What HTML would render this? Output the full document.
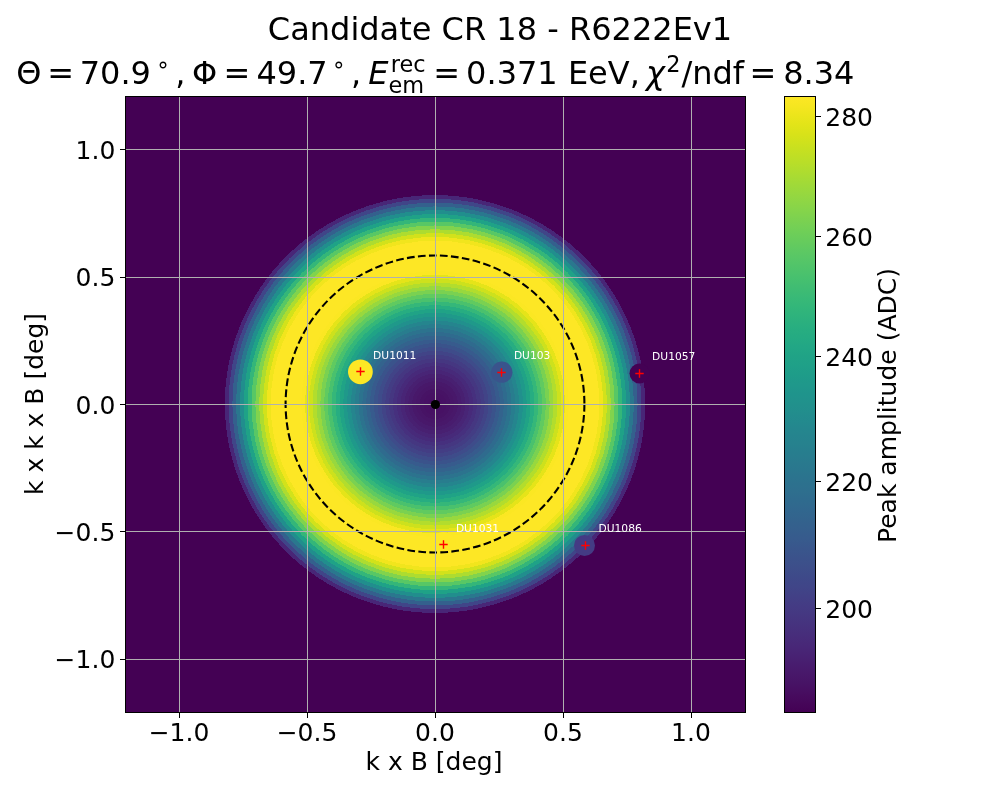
<!DOCTYPE html>
<html lang="en"><head><meta charset="utf-8"><title>Candidate CR 18 - R6222Ev1</title>
<style>html,body{margin:0;padding:0;background:#fff}svg{display:block}text{font-family:"DejaVu Sans","Liberation Sans",sans-serif;fill:#000}.t18{font-size:25px}.t23{font-size:32px}.t16{font-size:22.4px}.lab{font-size:10.7px;fill:#fff}</style></head><body>
<svg width="1000" height="800" viewBox="0 0 1000 800">
<rect width="1000" height="800" fill="#fff"/>
<defs><clipPath id="ax"><rect x="125" y="96" width="620" height="616"/></clipPath>
<linearGradient id="cb" x1="0" y1="0" x2="0" y2="1"><stop offset="0.0000" stop-color="#fde725"/><stop offset="0.0156" stop-color="#f6e620"/><stop offset="0.0312" stop-color="#ece51b"/><stop offset="0.0469" stop-color="#e2e418"/><stop offset="0.0625" stop-color="#d8e219"/><stop offset="0.0781" stop-color="#cde11d"/><stop offset="0.0938" stop-color="#c2df23"/><stop offset="0.1094" stop-color="#b8de29"/><stop offset="0.1250" stop-color="#addc30"/><stop offset="0.1406" stop-color="#a2da37"/><stop offset="0.1562" stop-color="#98d83e"/><stop offset="0.1719" stop-color="#8ed645"/><stop offset="0.1875" stop-color="#84d44b"/><stop offset="0.2031" stop-color="#7ad151"/><stop offset="0.2188" stop-color="#70cf57"/><stop offset="0.2344" stop-color="#67cc5c"/><stop offset="0.2500" stop-color="#5ec962"/><stop offset="0.2656" stop-color="#56c667"/><stop offset="0.2812" stop-color="#4ec36b"/><stop offset="0.2969" stop-color="#46c06f"/><stop offset="0.3125" stop-color="#3fbc73"/><stop offset="0.3281" stop-color="#38b977"/><stop offset="0.3438" stop-color="#32b67a"/><stop offset="0.3594" stop-color="#2db27d"/><stop offset="0.3750" stop-color="#28ae80"/><stop offset="0.3906" stop-color="#25ab82"/><stop offset="0.4062" stop-color="#22a785"/><stop offset="0.4219" stop-color="#20a386"/><stop offset="0.4375" stop-color="#1fa088"/><stop offset="0.4531" stop-color="#1e9c89"/><stop offset="0.4688" stop-color="#1f988b"/><stop offset="0.4844" stop-color="#1f948c"/><stop offset="0.5000" stop-color="#21918c"/><stop offset="0.5156" stop-color="#228d8d"/><stop offset="0.5312" stop-color="#23898e"/><stop offset="0.5469" stop-color="#25858e"/><stop offset="0.5625" stop-color="#26828e"/><stop offset="0.5781" stop-color="#277e8e"/><stop offset="0.5938" stop-color="#297a8e"/><stop offset="0.6094" stop-color="#2a768e"/><stop offset="0.6250" stop-color="#2c728e"/><stop offset="0.6406" stop-color="#2e6f8e"/><stop offset="0.6562" stop-color="#2f6b8e"/><stop offset="0.6719" stop-color="#31678e"/><stop offset="0.6875" stop-color="#33638d"/><stop offset="0.7031" stop-color="#355f8d"/><stop offset="0.7188" stop-color="#375b8d"/><stop offset="0.7344" stop-color="#39568c"/><stop offset="0.7500" stop-color="#3b528b"/><stop offset="0.7656" stop-color="#3d4e8a"/><stop offset="0.7812" stop-color="#3e4989"/><stop offset="0.7969" stop-color="#404588"/><stop offset="0.8125" stop-color="#424086"/><stop offset="0.8281" stop-color="#443b84"/><stop offset="0.8438" stop-color="#453781"/><stop offset="0.8594" stop-color="#46327e"/><stop offset="0.8750" stop-color="#472d7b"/><stop offset="0.8906" stop-color="#482878"/><stop offset="0.9062" stop-color="#482374"/><stop offset="0.9219" stop-color="#481d6f"/><stop offset="0.9375" stop-color="#48186a"/><stop offset="0.9531" stop-color="#471365"/><stop offset="0.9688" stop-color="#470d60"/><stop offset="0.9844" stop-color="#46075a"/><stop offset="1.0000" stop-color="#440154"/></linearGradient></defs>
<rect x="125" y="96" width="620" height="616" fill="#440154"/>
<g clip-path="url(#ax)" shape-rendering="crispEdges">
<ellipse cx="435.0" cy="404.0" rx="210.20" ry="208.94" fill="#482677"/>
<ellipse cx="435.0" cy="404.0" rx="206.38" ry="205.14" fill="#404588"/>
<ellipse cx="435.0" cy="404.0" rx="202.56" ry="201.34" fill="#34608d"/>
<ellipse cx="435.0" cy="404.0" rx="198.73" ry="197.54" fill="#2a778e"/>
<ellipse cx="435.0" cy="404.0" rx="194.91" ry="193.74" fill="#218e8d"/>
<ellipse cx="435.0" cy="404.0" rx="191.09" ry="189.94" fill="#1fa287"/>
<ellipse cx="435.0" cy="404.0" rx="187.27" ry="186.15" fill="#34b679"/>
<ellipse cx="435.0" cy="404.0" rx="183.45" ry="182.35" fill="#58c765"/>
<ellipse cx="435.0" cy="404.0" rx="179.63" ry="178.55" fill="#81d34d"/>
<ellipse cx="435.0" cy="404.0" rx="175.80" ry="174.75" fill="#addc30"/>
<ellipse cx="435.0" cy="404.0" rx="171.98" ry="170.95" fill="#d2e21b"/>
<ellipse cx="435.0" cy="404.0" rx="168.16" ry="167.15" fill="#f1e51d"/>
<ellipse cx="435.0" cy="404.0" rx="164.34" ry="163.35" fill="#fde725"/>
<ellipse cx="435.0" cy="404.0" rx="133.76" ry="132.96" fill="#fbe723"/>
<ellipse cx="435.0" cy="404.0" rx="129.94" ry="129.16" fill="#e5e419"/>
<ellipse cx="435.0" cy="404.0" rx="126.12" ry="125.36" fill="#cde11d"/>
<ellipse cx="435.0" cy="404.0" rx="122.30" ry="121.56" fill="#b2dd2d"/>
<ellipse cx="435.0" cy="404.0" rx="118.48" ry="117.77" fill="#98d83e"/>
<ellipse cx="435.0" cy="404.0" rx="114.65" ry="113.97" fill="#7ad151"/>
<ellipse cx="435.0" cy="404.0" rx="110.83" ry="110.17" fill="#60ca60"/>
<ellipse cx="435.0" cy="404.0" rx="107.01" ry="106.37" fill="#4ac16d"/>
<ellipse cx="435.0" cy="404.0" rx="103.19" ry="102.57" fill="#35b779"/>
<ellipse cx="435.0" cy="404.0" rx="99.37" ry="98.77" fill="#27ad81"/>
<ellipse cx="435.0" cy="404.0" rx="95.55" ry="94.97" fill="#20a386"/>
<ellipse cx="435.0" cy="404.0" rx="91.72" ry="91.17" fill="#1f998a"/>
<ellipse cx="435.0" cy="404.0" rx="87.90" ry="87.37" fill="#21908d"/>
<ellipse cx="435.0" cy="404.0" rx="84.08" ry="83.58" fill="#25858e"/>
<ellipse cx="435.0" cy="404.0" rx="80.26" ry="79.78" fill="#287d8e"/>
<ellipse cx="435.0" cy="404.0" rx="76.44" ry="75.98" fill="#2c738e"/>
<ellipse cx="435.0" cy="404.0" rx="72.61" ry="72.18" fill="#2f6b8e"/>
<ellipse cx="435.0" cy="404.0" rx="68.79" ry="68.38" fill="#33638d"/>
<ellipse cx="435.0" cy="404.0" rx="64.97" ry="64.58" fill="#375b8d"/>
<ellipse cx="435.0" cy="404.0" rx="61.15" ry="60.78" fill="#3a538b"/>
<ellipse cx="435.0" cy="404.0" rx="57.33" ry="56.98" fill="#3e4c8a"/>
<ellipse cx="435.0" cy="404.0" rx="53.51" ry="53.18" fill="#414487"/>
<ellipse cx="435.0" cy="404.0" rx="49.68" ry="49.39" fill="#433d84"/>
<ellipse cx="435.0" cy="404.0" rx="45.86" ry="45.59" fill="#453781"/>
<ellipse cx="435.0" cy="404.0" rx="42.04" ry="41.79" fill="#46307e"/>
<ellipse cx="435.0" cy="404.0" rx="38.22" ry="37.99" fill="#472a7a"/>
<ellipse cx="435.0" cy="404.0" rx="34.40" ry="34.19" fill="#482576"/>
<ellipse cx="435.0" cy="404.0" rx="30.57" ry="30.39" fill="#482071"/>
<ellipse cx="435.0" cy="404.0" rx="26.75" ry="26.59" fill="#481c6e"/>
<ellipse cx="435.0" cy="404.0" rx="22.93" ry="22.79" fill="#48186a"/>
<ellipse cx="435.0" cy="404.0" rx="19.11" ry="18.99" fill="#481668"/>
<ellipse cx="435.0" cy="404.0" rx="15.29" ry="15.20" fill="#471365"/>
<ellipse cx="435.0" cy="404.0" rx="11.47" ry="11.40" fill="#471164"/>
<ellipse cx="435.0" cy="404.0" rx="7.64" ry="7.60" fill="#471063"/>
</g>
<g clip-path="url(#ax)">
<circle cx="360.4" cy="371.8" r="12.40" fill="#fde725"/>
<circle cx="501.8" cy="372.2" r="10.65" fill="#3a548c"/>
<circle cx="639.5" cy="373.5" r="10.00" fill="#440154"/>
<circle cx="443.5" cy="544.5" r="12.40" fill="#fde725"/>
<circle cx="584.5" cy="545.5" r="10.50" fill="#443b84"/>
<ellipse cx="435" cy="404" rx="149.4" ry="148.50" fill="none" stroke="#000" stroke-width="2.08" stroke-dasharray="7.71 3.33"/>
</g>
<g stroke="#b0b0b0" stroke-width="1.11" shape-rendering="crispEdges">
<line x1="179.5" y1="96" x2="179.5" y2="712"/>
<line x1="307.5" y1="96" x2="307.5" y2="712"/>
<line x1="435.5" y1="96" x2="435.5" y2="712"/>
<line x1="563.5" y1="96" x2="563.5" y2="712"/>
<line x1="691.5" y1="96" x2="691.5" y2="712"/>
<line x1="125" y1="149.5" x2="745" y2="149.5"/>
<line x1="125" y1="277.5" x2="745" y2="277.5"/>
<line x1="125" y1="404.5" x2="745" y2="404.5"/>
<line x1="125" y1="531.5" x2="745" y2="531.5"/>
<line x1="125" y1="659.5" x2="745" y2="659.5"/>
</g>
<circle cx="435.4" cy="404.5" r="4.6" fill="#000"/>
<g stroke="#f00" stroke-width="1.39">
<path d="M356.3 371.5H364.7M360.5 367.3V375.7"/>
<path d="M497.3 372.5H505.7M501.5 368.3V376.7"/>
<path d="M635.3 373.5H643.7M639.5 369.3V377.7"/>
<path d="M439.3 544.5H447.7M443.5 540.3V548.7"/>
<path d="M581.3 545.5H589.7M585.5 541.3V549.7"/>
</g>
<text class="lab" x="373.1" y="358.7">DU1011</text>
<text class="lab" x="513.9" y="358.7">DU103</text>
<text class="lab" x="652.1" y="359.7">DU1057</text>
<text class="lab" x="455.9" y="531.5">DU1031</text>
<text class="lab" x="598.5" y="531.5">DU1086</text>
<rect x="125.5" y="96.5" width="620" height="616" fill="none" stroke="#000" stroke-width="1.11" shape-rendering="crispEdges"/>
<g stroke="#000" stroke-width="1.11" shape-rendering="crispEdges">
<line x1="179.5" y1="712.5" x2="179.5" y2="717.9"/>
<line x1="307.5" y1="712.5" x2="307.5" y2="717.9"/>
<line x1="435.5" y1="712.5" x2="435.5" y2="717.9"/>
<line x1="563.5" y1="712.5" x2="563.5" y2="717.9"/>
<line x1="691.5" y1="712.5" x2="691.5" y2="717.9"/>
<line x1="120.1" y1="149.5" x2="125.5" y2="149.5"/>
<line x1="120.1" y1="277.5" x2="125.5" y2="277.5"/>
<line x1="120.1" y1="404.5" x2="125.5" y2="404.5"/>
<line x1="120.1" y1="531.5" x2="125.5" y2="531.5"/>
<line x1="120.1" y1="659.5" x2="125.5" y2="659.5"/>
<line x1="815.5" y1="608.5" x2="820.9" y2="608.5"/>
<line x1="815.5" y1="481.5" x2="820.9" y2="481.5"/>
<line x1="815.5" y1="356.5" x2="820.9" y2="356.5"/>
<line x1="815.5" y1="236.5" x2="820.9" y2="236.5"/>
<line x1="815.5" y1="116.5" x2="820.9" y2="116.5"/>
</g>
<text class="t18" text-anchor="middle" x="179.0" y="740.7">−1.0</text>
<text class="t18" text-anchor="middle" x="307.0" y="740.7">−0.5</text>
<text class="t18" text-anchor="middle" x="435.0" y="740.7">0.0</text>
<text class="t18" text-anchor="middle" x="563.0" y="740.7">0.5</text>
<text class="t18" text-anchor="middle" x="691.0" y="740.7">1.0</text>
<text class="t18" text-anchor="end" x="115.3" y="159.0">1.0</text>
<text class="t18" text-anchor="end" x="115.3" y="286.0">0.5</text>
<text class="t18" text-anchor="end" x="115.3" y="414.0">0.0</text>
<text class="t18" text-anchor="end" x="115.3" y="540.7">−0.5</text>
<text class="t18" text-anchor="end" x="115.3" y="668.2">−1.0</text>
<text class="t18" x="825.3" y="618.0">200</text>
<text class="t18" x="825.3" y="491.0">220</text>
<text class="t18" x="825.3" y="366.0">240</text>
<text class="t18" x="825.3" y="246.0">260</text>
<text class="t18" x="825.3" y="126.0">280</text>
<text class="t18" text-anchor="middle" x="434" y="769.5">k x B [deg]</text>
<text class="t18" text-anchor="middle" transform="translate(43.0 404) rotate(-90)">k x k x B [deg]</text>
<text class="t18" text-anchor="middle" transform="translate(895.5 405.5) rotate(-90)">Peak amplitude (ADC)</text>
<rect x="784" y="96" width="31" height="616" fill="url(#cb)"/>
<rect x="784.5" y="96.5" width="31" height="616" fill="none" stroke="#000" stroke-width="1.11" shape-rendering="crispEdges"/>
<text class="t23" text-anchor="middle" x="500" y="40.3">Candidate CR 18 - R6222Ev1</text>
<text class="t23"><tspan x="16.36" y="84.07">Θ</tspan><tspan x="47.23" y="84.07">=</tspan><tspan x="79.72" y="84.07">70.9</tspan><tspan x="156.01" y="71.84" class="t16">∘</tspan><tspan x="175.23" y="84.07">,</tspan><tspan x="192.11" y="84.07">Φ</tspan><tspan x="223.48" y="84.07">=</tspan><tspan x="256.47" y="84.07">49.7</tspan><tspan x="331.76" y="71.84" class="t16">∘</tspan><tspan x="350.98" y="84.07">,</tspan><tspan x="368.36" y="84.07" font-style="oblique">E</tspan><tspan x="390.79" y="71.84" class="t16">rec</tspan><tspan x="388.54" y="92.80" class="t16">em</tspan><tspan x="433.13" y="84.07">=</tspan><tspan x="466.12" y="84.07">0.371 EeV,</tspan><tspan x="646.02" y="84.07" font-style="oblique">χ</tspan><tspan x="666.35" y="71.84" class="t16">2</tspan><tspan x="681.45" y="84.07">/ndf</tspan><tspan x="749.51" y="84.07">=</tspan><tspan x="783.20" y="84.07">8.34</tspan></text>
</svg></body></html>
